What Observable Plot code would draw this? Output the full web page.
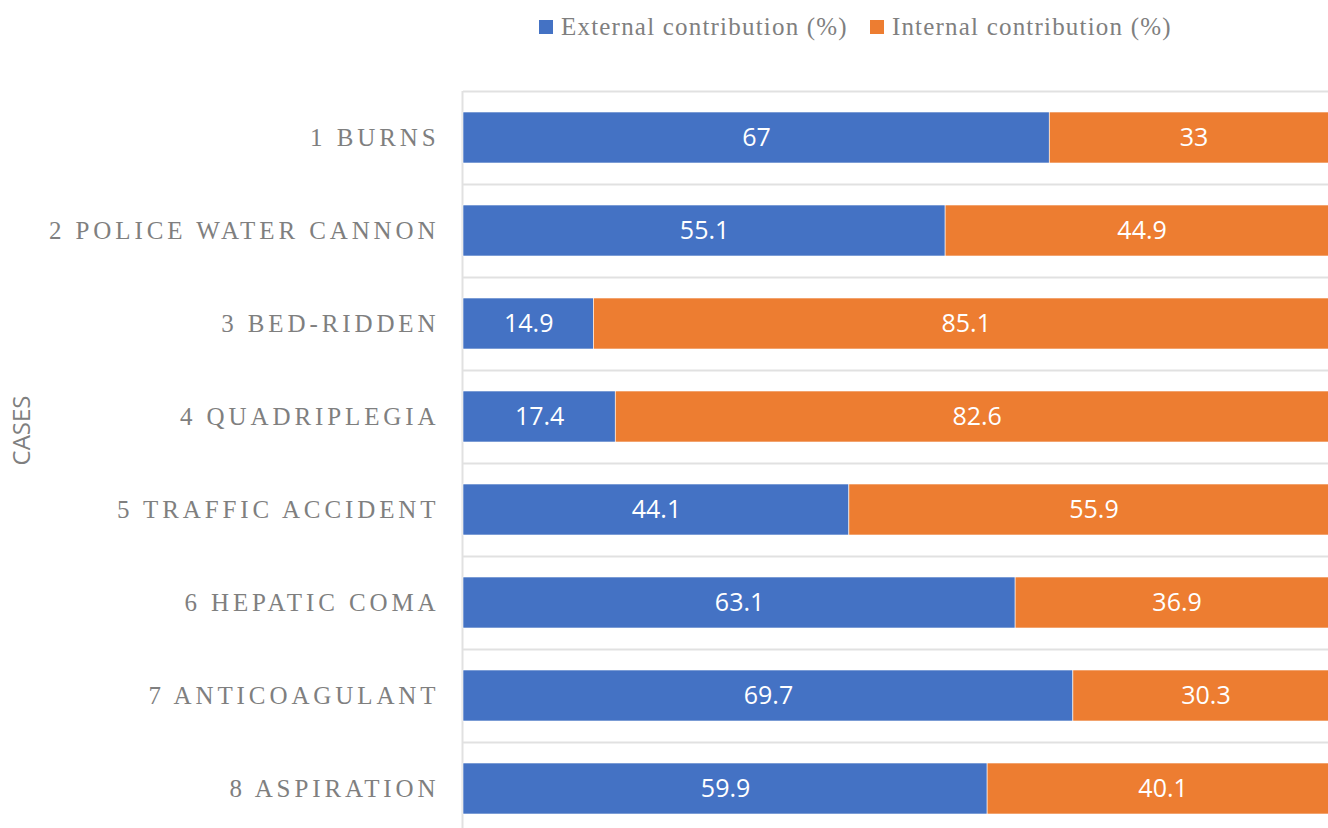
<!DOCTYPE html>
<html>
<head>
<meta charset="utf-8">
<script src="https://cdn.jsdelivr.net/npm/d3@7"></script>
<script src="https://cdn.jsdelivr.net/npm/@observablehq/plot@0.6"></script>
<style>
  html, body { margin: 0; padding: 0; background: #fff; overflow: hidden; width: 1328px; height: 828px; }
  #wrap { position: relative; width: 1328px; height: 828px; overflow: hidden; }
  #legend { position: absolute; left: 539px; top: 13px; display: flex; align-items: center;
    font-family: "Liberation Serif", "Times New Roman", serif; font-size: 25px; letter-spacing: 1.2px; color: #7f7f7f; }
  #legend .item { display: flex; align-items: center; margin-right: 22px; }
  #legend .sw { width: 14px; height: 14px; margin-right: 8px; }
  #chart { position: absolute; left: 0; top: 0; }
  #chart svg { max-width: none !important; }
  #chart svg g[aria-label="y-axis tick label"] text { letter-spacing: 3.9px; }
</style>
</head>
<body>
<div id="wrap">
  <div id="chart"></div>
  <div id="legend"></div>
</div>
<script>
const cases = ["1 BURNS", "2 POLICE WATER CANNON", "3 BED-RIDDEN", "4 QUADRIPLEGIA",
  "5 TRAFFIC ACCIDENT", "6 HEPATIC COMA", "7 ANTICOAGULANT", "8 ASPIRATION"];
const external = [67, 55.1, 14.9, 17.4, 44.1, 63.1, 69.7, 59.9];
const internal = [33, 44.9, 85.1, 82.6, 55.9, 36.9, 30.3, 40.1];
const seriesNames = ["External contribution (%)", "Internal contribution (%)"];
const seriesColors = ["#4472C4", "#ED7D31"];
const axisTitle = "CASES";

const data = [];
cases.forEach((c, i) => {
  data.push({case: c, series: seriesNames[0], value: external[i]});
  data.push({case: c, series: seriesNames[1], value: internal[i]});
});

const gridColor = "#e1e1e1";

const chart = Plot.plot({
  width: 1338,
  height: 835,
  marginLeft: 463,
  marginRight: 0,
  marginTop: 91,
  marginBottom: 0,
  x: {domain: [0, 100], axis: null},
  y: {domain: cases, paddingInner: 0.45, paddingOuter: 0.225, axis: null},
  color: {domain: seriesNames, range: seriesColors},
  marks: [
    Plot.ruleY(cases.slice(0, 1), {y: d => d, dy: -46.5, stroke: gridColor, strokeWidth: 2}),
    Plot.ruleY(cases, {y: d => d, dy: 46.5, stroke: gridColor, strokeWidth: 2}),
    Plot.ruleX([0], {stroke: gridColor, strokeWidth: 2, dx: -1}),
    Plot.barX(data, {x: "value", y: "case", z: "series", fill: "series", stroke: "#ffffff", strokeWidth: 0.6, order: seriesNames}),
    Plot.text(data, Plot.stackX({x: "value", y: "case", z: "series", text: d => String(d.value), order: seriesNames,
      fill: "white", fontSize: 25, fontFamily: "Open Sans, Noto Sans, sans-serif"})),
    Plot.axisY({
      tickSize: 0,
      tickPadding: 24,
      fontSize: 25,
      fontFamily: "Liberation Serif, Times New Roman, serif",
      color: "#7f7f7f",
      label: null
    }),
    Plot.text([axisTitle], {frameAnchor: "left", textAnchor: "middle", text: d => d, rotate: -90, dx: -441, dy: -33,
      fontSize: 24, fontFamily: "Open Sans, Noto Sans, sans-serif", fill: "#7f7f7f"})
  ],
  style: {background: "transparent", overflow: "visible", maxWidth: "none"}
});
document.getElementById("chart").appendChild(chart);

const legend = document.getElementById("legend");
seriesNames.forEach((s, i) => {
  const item = document.createElement("div");
  item.className = "item";
  const sw = document.createElement("span");
  sw.className = "sw";
  sw.style.background = seriesColors[i];
  const t = document.createElement("span");
  t.textContent = s;
  item.appendChild(sw);
  item.appendChild(t);
  legend.appendChild(item);
});
</script>
</body>
</html>
